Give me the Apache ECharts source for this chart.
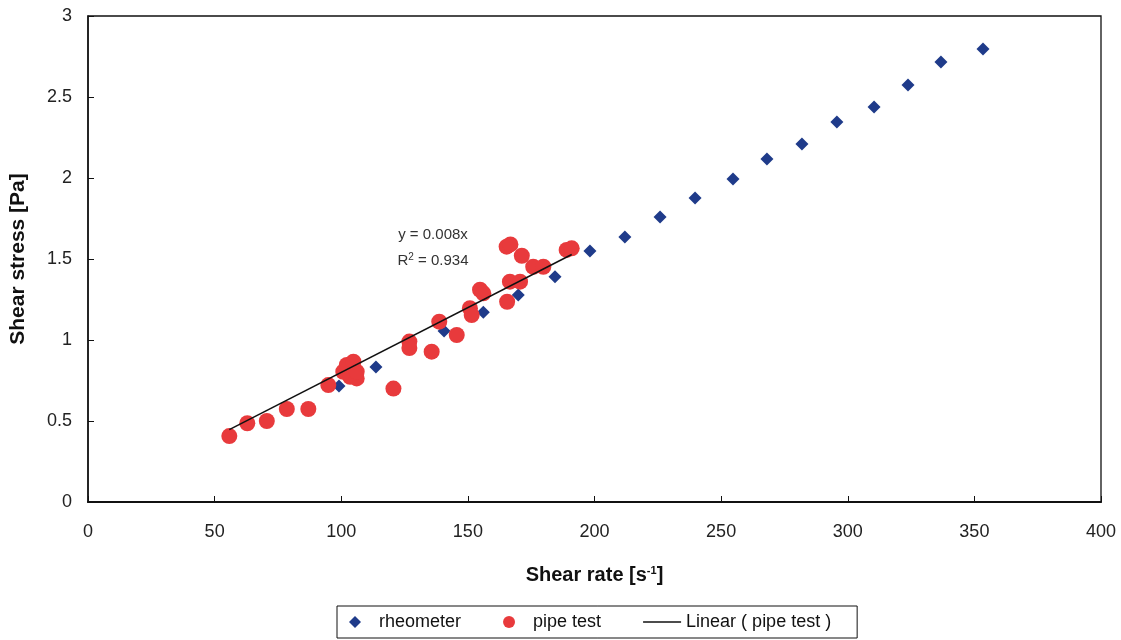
<!DOCTYPE html>
<html>
<head>
<meta charset="utf-8">
<script src="https://cdn.jsdelivr.net/npm/echarts@6/dist/echarts.min.js"></script>
<style>html,body{margin:0;padding:0;background:#fff;}#c{width:1121px;height:640px;}</style>
</head>
<body>
<div id="c"></div>
<script>
const xTicks = [0, 50, 100, 150, 200, 250, 300, 350, 400];
const yTicks = [0, 0.5, 1, 1.5, 2, 2.5, 3];

const rheometerX = [99.1, 113.7, 140.6, 156.1, 169.9, 184.4, 198.2, 212.0, 225.9, 239.7, 254.7, 268.1, 281.9, 295.7, 310.4, 323.8, 336.8, 353.4];
const rheometerY = [0.716, 0.833, 1.056, 1.171, 1.278, 1.39, 1.549, 1.636, 1.759, 1.877, 1.994, 2.117, 2.21, 2.346, 2.438, 2.574, 2.716, 2.796];

const pipeX = [55.8, 62.9, 70.6, 78.5, 87.0, 94.9, 100.8, 102.2, 104.8, 103.5, 106.1, 106.1, 120.6, 126.9, 126.9, 135.7, 138.7, 145.6, 150.8, 151.5, 154.8, 156.1, 165.5, 165.3, 166.8, 171.3, 175.8, 179.8, 189.0, 191.0, 166.6, 170.6];
const pipeY = [0.407, 0.486, 0.50, 0.574, 0.574, 0.722, 0.804, 0.846, 0.866, 0.773, 0.763, 0.804, 0.70, 0.99, 0.95, 0.928, 1.113, 1.031, 1.196, 1.154, 1.31, 1.288, 1.236, 1.576, 1.59, 1.52, 1.452, 1.452, 1.556, 1.566, 1.36, 1.36];

const trendSlope = 0.008;
const trendR2 = 0.934;

const rheoData = rheometerX.map((x, i) => [x, rheometerY[i]]);
const pipeData = pipeX.map((x, i) => [x, pipeY[i]]);
const xMin = Math.min(...pipeX), xMax = Math.max(...pipeX);
const trendData = [[xMin, trendSlope * xMin], [xMax, trendSlope * xMax]];

const chart = echarts.init(document.getElementById('c'));
const font = 'Liberation Sans, Arial, sans-serif';
chart.setOption({
  animation: false,
  backgroundColor: '#fff',
  textStyle: { fontFamily: font },
  grid: { left: 88, right: 20, top: 16, bottom: 138, show: true, borderColor: '#111', borderWidth: 1.3, outerBoundsMode: 'none', containLabel: false },
  xAxis: {
    type: 'value', min: 0, max: 400, interval: 50,
    name: '{b|Shear rate [s}{s|-1}{b|]}',
    nameLocation: 'middle', nameGap: 63,
    nameTextStyle: { rich: {
      b: { fontSize: 20, fontWeight: 'bold', color: '#111', fontFamily: font },
      s: { fontSize: 11, fontWeight: 'bold', color: '#111', verticalAlign: 'top', padding: [0, 0, 9, 0], fontFamily: font }
    } },
    axisLine: { lineStyle: { color: '#111', width: 2 } },
    axisTick: { inside: true, length: 6, lineStyle: { color: '#111' } },
    axisLabel: { fontSize: 18, color: '#222', margin: 21 },
    splitLine: { show: false }
  },
  yAxis: {
    type: 'value', min: 0, max: 3, interval: 0.5,
    name: 'Shear stress [Pa]',
    nameLocation: 'middle', nameGap: 59,
    nameTextStyle: { fontSize: 21, fontWeight: 'bold', color: '#111' },
    axisLine: { lineStyle: { color: '#111', width: 1.5 } },
    axisTick: { inside: true, length: 6, lineStyle: { color: '#111' } },
    axisLabel: { fontSize: 18, color: '#222', margin: 16 },
    splitLine: { show: false }
  },
  legend: {
    bottom: 2, left: 337,
    borderColor: '#111', borderWidth: 1, padding: [7, 26, 7, 12],
    itemGap: 42, itemWidth: 38, itemHeight: 12,
    textStyle: { fontSize: 18, color: '#111', fontFamily: font },
    data: [
      { name: 'rheometer', icon: 'path://M0,-1L1,0L0,1L-1,0Z' },
      { name: 'pipe test', icon: 'circle' },
      { name: 'Linear ( pipe test )', icon: 'path://M0,0L38,0L38,1.5L0,1.5Z' }
    ]
  },
  series: [
    {
      name: 'rheometer', type: 'scatter', data: rheoData,
      symbol: 'diamond', symbolSize: 13,
      itemStyle: { color: '#1f3b8a', opacity: 1 }, z: 3
    },
    {
      name: 'pipe test', type: 'scatter', data: pipeData,
      symbol: 'circle', symbolSize: 16,
      itemStyle: { color: '#e83a3c', opacity: 1 }, z: 4
    },
    {
      name: 'Linear ( pipe test )', type: 'line', data: trendData,
      symbol: 'none', itemStyle: { color: '#111' }, lineStyle: { color: '#111', width: 1.5 }, z: 5
    }
  ],
  graphic: [
    { type: 'text', x: 433, y: 235, style: { text: 'y = ' + trendSlope.toFixed(3) + 'x', fontSize: 15, fontFamily: font, fill: '#333', align: 'center', verticalAlign: 'middle' } },
    { type: 'text', x: 433, y: 261, style: {
      text: '{a|R}{s|2}{a| = ' + trendR2.toFixed(3) + '}', align: 'center', verticalAlign: 'middle', fontSize: 15, fontFamily: font, fill: '#333',
      rich: { a: { fontSize: 15, fontFamily: font, fill: '#333' }, s: { fontSize: 10, fontFamily: font, fill: '#333', verticalAlign: 'top', padding: [0, 0, 7, 0] } }
    } }
  ]
});
</script>
</body>
</html>
